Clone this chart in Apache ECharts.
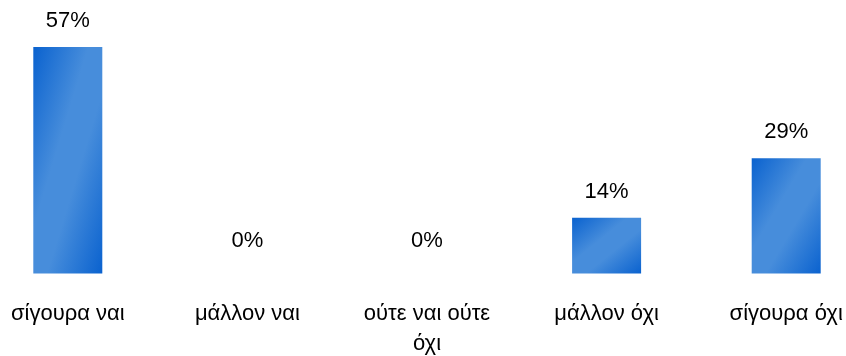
<!DOCTYPE html>
<html>
<head>
<meta charset="utf-8">
<script src="https://cdn.jsdelivr.net/npm/echarts@6/dist/echarts.min.js"></script>
<style>
  html, body { margin: 0; padding: 0; background: #fff; }
  #chart { width: 846px; height: 356px; }
</style>
</head>
<body>
<div id="chart"></div>
<script>
const categories = ["σίγουρα ναι", "μάλλον ναι", "ούτε ναι ούτε όχι", "μάλλον όχι", "σίγουρα όχι"];
const values = [57, 0, 0, 14, 29];

const yMax = 60;
const gridTop = 35;
const gridBottom = 82.5;
const barW = 69;
const font = "22px 'Liberation Sans'";

const chart = echarts.init(document.getElementById("chart"));

// wrap labels by words, like the office chart does
const ctx = document.createElement("canvas").getContext("2d");
ctx.font = font;
function wrap(text, maxW) {
  const words = text.split(" ");
  const lines = [];
  let cur = "";
  words.forEach((w) => {
    const t = cur ? cur + " " + w : w;
    if (cur && ctx.measureText(t).width > maxW) {
      lines.push(cur);
      cur = w;
    } else {
      cur = t;
    }
  });
  lines.push(cur);
  return lines.join("\n");
}

// gradient scaled with the shape: dark corners top-left and bottom-right
function barGradient(v) {
  const plotH = 356 - gridTop - gridBottom;
  const h = Math.max((v / yMax) * plotH, 1);
  const w = barW;
  const d = h * h + w * w;
  return new echarts.graphic.LinearGradient(0, 0, (2 * h * h) / d, (2 * w * w) / d, [
    { offset: 0, color: "#0a62cf" },
    { offset: 0.4, color: "#478ddb" },
    { offset: 0.6, color: "#478ddb" },
    { offset: 1, color: "#0a62cf" },
  ]);
}

const option = {
  animation: false,
  grid: {
    left: -22,
    right: -30,
    top: gridTop,
    bottom: gridBottom,
    outerBoundsMode: "none",
  },
  xAxis: {
    type: "category",
    data: categories,
    axisLine: { show: false },
    axisTick: { show: false },
    axisLabel: {
      interval: 0,
      margin: 25,
      color: "#000",
      fontFamily: "Liberation Sans",
      fontSize: 22,
      lineHeight: 30,
      formatter: (val) => wrap(val, 150),
    },
  },
  yAxis: {
    type: "value",
    min: 0,
    max: yMax,
    show: false,
    splitLine: { show: false },
  },
  series: [
    {
      type: "bar",
      barWidth: barW,
      data: values.map((v) => ({
        value: v,
        itemStyle: { color: barGradient(v) },
        label: { distance: v === 0 ? 22 : 15 },
      })),
      label: {
        show: true,
        position: "top",
        color: "#000",
        fontFamily: "Liberation Sans",
        fontSize: 22,
        formatter: "{c}%",
      },
    },
  ],
};

chart.setOption(option);
</script>
</body>
</html>
